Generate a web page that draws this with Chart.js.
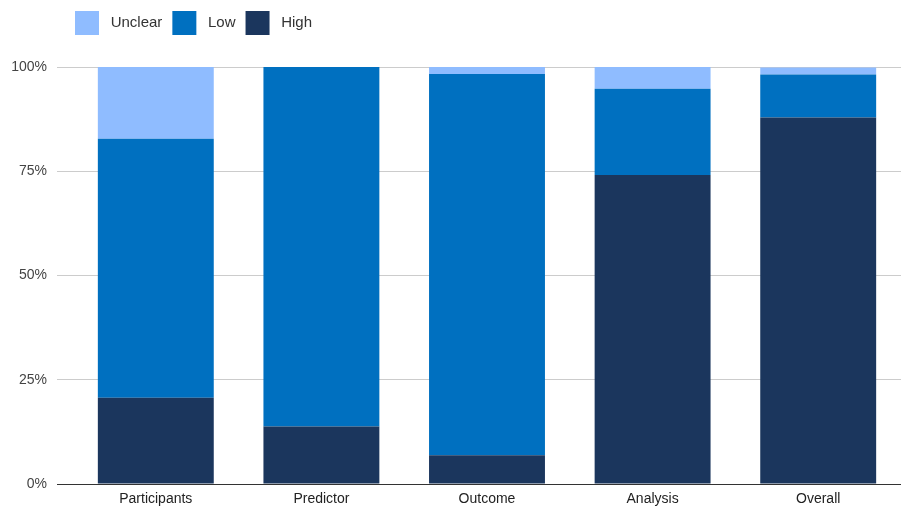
<!DOCTYPE html>
<html>
<head>
<meta charset="utf-8">
<script src="https://cdn.jsdelivr.net/npm/chart.js@4/dist/chart.umd.min.js"></script>
<style>
    html, body { margin: 0; padding: 0; background: #fff; }
    #wrap { width: 905px; height: 508px; }
</style>
</head>
<body>
<div id="wrap"><canvas id="chart"></canvas></div>
<script>
// --- Data (percent of studies) ---
const categories = ['Participants', 'Predictor', 'Outcome', 'Analysis', 'Overall'];
const highRisk = [20.7, 13.8, 6.9, 74.1, 87.9];
const lowRisk = [62.1, 86.2, 91.4, 20.7, 10.3];
const unclearRisk = [17.2, 0, 1.7, 5.2, 1.7];
const yTicks = [0, 25, 50, 75, 100];

document.addEventListener('DOMContentLoaded', () => {
    Chart.defaults.font.family = '"Liberation Sans", Arial, sans-serif';

    // push the plot down below the legend, and line the legend up with the boxes in the original
    const legendGap = {
        id: 'legendGap',
        beforeInit(chart) {
            const fit = chart.legend.fit;
            chart.legend.fit = function () {
                fit.call(this);
                this.height += 23;
            };
        },
        afterLayout(chart) {
            chart.legend.left -= 8;
            chart.legend.right -= 8;
            chart.legend.top += 1;
        }
    };

    const baseLabels = Chart.defaults.plugins.legend.labels.generateLabels;

    new Chart(document.getElementById('chart'), {
        type: 'bar',
        data: {
            labels: categories,
            datasets: [
                { label: 'High', data: highRisk, backgroundColor: '#1b365d' },
                { label: 'Low', data: lowRisk, backgroundColor: '#0070c0' },
                { label: 'Unclear', data: unclearRisk, backgroundColor: '#8fbcff' }
            ]
        },
        options: {
            responsive: true,
            maintainAspectRatio: false,
            animation: false,
            layout: { padding: { left: 0, right: 4, top: 0, bottom: 0 } },
            datasets: { bar: { barPercentage: 0.7, categoryPercentage: 1, borderWidth: 0 } },
            plugins: {
                tooltip: { enabled: false },
                legend: {
                    position: 'top',
                    align: 'start',
                    fullSize: false,
                    reverse: true,
                    labels: {
                        boxWidth: 24,
                        boxHeight: 24,
                        padding: 10,
                        color: '#333',
                        font: { size: 15 },
                        // a bit more room between swatch and text, like the original
                        generateLabels: (chart) => baseLabels(chart).map(l => ({ ...l, text: ' ' + l.text }))
                    }
                }
            },
            scales: {
                x: {
                    stacked: true,
                    afterFit: (scale) => { scale.height = 24; },
                    grid: { display: false, drawTicks: false },
                    border: { display: false },
                    ticks: { color: '#222', font: { size: 14 }, padding: 7 }
                },
                y: {
                    stacked: true,
                    min: 0,
                    max: 100,
                    afterFit: (scale) => { scale.width = 73; },
                    afterBuildTicks: (scale) => { scale.ticks = yTicks.map(v => ({ value: v })); },
                    grid: {
                        color: (ctx) => ctx.tick && ctx.tick.value === 0 ? '#333' : '#ccc',
                        tickLength: 16,
                        lineWidth: 1
                    },
                    border: { display: false },
                    ticks: {
                        color: '#444',
                        font: { size: 14 },
                        padding: 10,
                        callback: (v) => v + '%'
                    }
                }
            }
        },
        plugins: [legendGap]
    });
});
</script>
</body>
</html>
